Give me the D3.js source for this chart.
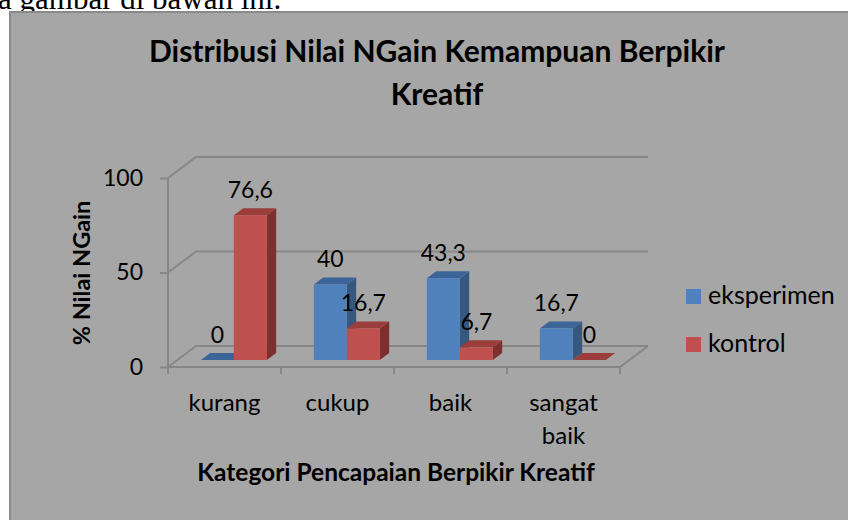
<!DOCTYPE html>
<html>
<head>
<meta charset="utf-8">
<script src="https://cdn.jsdelivr.net/npm/d3@7"></script>
<style>
  body { margin: 0; background: #fff; }
  svg { display: block; }
  text { font-family: Lato, "Open Sans", sans-serif; fill: #000; }
</style>
</head>
<body>
<div id="chart"></div>
<script>
// data
var categories = ["kurang", "cukup", "baik", "sangat baik"];
var seriesNames = ["eksperimen", "kontrol"];
var eksperimen = [0, 40, 43.3, 16.7];
var kontrol = [76.6, 16.7, 6.7, 0];
var yTicks = [0, 50, 100];

var W = 848, H = 520;
var front = { left: 168, right: 620, bottom: 367, top: 178 };
var depth = { dx: 28, dy: -21 };   // full floor depth
var barDx = depth.dx / 3, barDy = depth.dy / 3;

var faceColors = {
    eksperimen: { front: "#4f81bd", top: "#3c6597", side: "#36587f" },
    kontrol:    { front: "#c0504d", top: "#9a3d3b", side: "#7c2f2d" }
};
var gridColor = "#878787";
var fmt = function (v) { return String(v).replace(".", ","); };

var svg = d3.select("#chart").append("svg")
    .attr("width", W).attr("height", H);

// page text above the chart (cut off in the source too)
svg.append("text")
    .attr("x", -2).attr("y", 9)
    .style("font-family", "'Liberation Serif', 'Times New Roman', serif")
    .style("font-size", "31px")
    .text("a gambar di bawah ini.");

// chart area
svg.append("rect")
    .attr("x", 10).attr("y", 12)
    .attr("width", W + 10).attr("height", H)
    .attr("fill", "#a6a6a6")
    .attr("stroke", "#8a8a8a").attr("stroke-width", 2);

// title
var title = svg.append("text")
    .attr("text-anchor", "middle")
    .style("font-weight", "bold").style("font-size", "30px");
title.append("tspan").attr("x", 437).attr("y", 62).text("Distribusi Nilai NGain Kemampuan Berpikir");
title.append("tspan").attr("x", 437).attr("y", 105).text("Kreatif");

// scales
var x0 = d3.scaleBand().domain(categories).range([front.left, front.right]).padding(0);
var groupW = x0.bandwidth() * 0.584;
var x1 = d3.scaleBand().domain(seriesNames).range([0, groupW]).padding(0);
var yFront = d3.scaleLinear().domain([0, 100]).range([front.bottom, front.top]);
var yBar = d3.scaleLinear().domain([0, 100]).range([front.bottom + barDy, front.top + barDy]);

// walls / gridlines
var grid = svg.append("g");
yTicks.forEach(function (t) {
    var y = yFront(t);
    grid.append("path")
        .attr("d", "M" + (front.left) + "," + y +
            "L" + (front.left + depth.dx) + "," + (y + depth.dy) +
            "L" + (front.right + depth.dx) + "," + (y + depth.dy))
        .attr("fill", "none").attr("stroke", gridColor).attr("stroke-width", 2);
});
// floor front edge and right side
grid.append("path")
    .attr("d", "M" + front.left + "," + front.bottom +
        "L" + front.right + "," + front.bottom +
        "L" + (front.right + depth.dx) + "," + (front.bottom + depth.dy))
    .attr("fill", "none").attr("stroke", gridColor).attr("stroke-width", 2);
// category ticks
x0.domain().concat([null]).forEach(function (c) {
    var xx = c === null ? front.right : x0(c);
    grid.append("line")
        .attr("x1", xx).attr("x2", xx)
        .attr("y1", front.bottom).attr("y2", front.bottom + 7)
        .attr("stroke", gridColor).attr("stroke-width", 2);
});

// y axis
var yAxis = d3.axisLeft(yFront).tickValues(yTicks).tickSize(8).tickPadding(17);
var gy = svg.append("g")
    .attr("transform", "translate(" + front.left + ",0)")
    .call(yAxis);
gy.select(".domain").attr("d", "M0," + front.top + "V" + (front.bottom + 6))
    .attr("stroke", gridColor).attr("stroke-width", 2);
gy.selectAll(".tick line").attr("stroke", gridColor).attr("stroke-width", 2);
gy.selectAll(".tick text").style("font-size", "23px").style("font-family", "Lato, sans-serif")
    .attr("fill", "#000");

// bars
var bars = [];
categories.forEach(function (c, i) {
    bars.push({ cat: c, s: "eksperimen", v: eksperimen[i] });
    bars.push({ cat: c, s: "kontrol", v: kontrol[i] });
});
function barLeft(d) {
    return x0(d.cat) + (x0.bandwidth() - groupW) / 2 + x1(d.s) + barDx;
}
var bw = x1.bandwidth();
var gBars = svg.append("g");
var bg = gBars.selectAll("g.bar").data(bars).enter().append("g").attr("class", "bar");
bg.append("path") // side
    .attr("d", function (d) {
        var xr = barLeft(d) + bw, yt = yBar(d.v), yb = yBar(0);
        return "M" + xr + "," + yb + "L" + (xr + barDx) + "," + (yb + barDy) +
            "L" + (xr + barDx) + "," + (yt + barDy) + "L" + xr + "," + yt + "Z";
    })
    .attr("fill", function (d) { return faceColors[d.s].side; });
bg.append("path") // top
    .attr("d", function (d) {
        var xl = barLeft(d), xr = xl + bw, yt = yBar(d.v);
        return "M" + xl + "," + yt + "L" + (xl + barDx) + "," + (yt + barDy) +
            "L" + (xr + barDx) + "," + (yt + barDy) + "L" + xr + "," + yt + "Z";
    })
    .attr("fill", function (d) { return faceColors[d.s].top; });
bg.append("rect") // front
    .attr("x", barLeft)
    .attr("y", function (d) { return yBar(d.v); })
    .attr("width", bw)
    .attr("height", function (d) { return yBar(0) - yBar(d.v); })
    .attr("fill", function (d) { return faceColors[d.s].front; });

// value labels
svg.append("g").selectAll("text").data(bars).enter().append("text")
    .attr("x", function (d) { return barLeft(d) + bw / 2; })
    .attr("y", function (d) { return yBar(d.v) - 17; })
    .attr("text-anchor", "middle")
    .style("font-size", "23px")
    .text(function (d) { return fmt(d.v); });

// category labels
var xAxis = d3.axisBottom(x0).tickSize(0).tickPadding(0).tickFormat("");
var gx = svg.append("g").attr("transform", "translate(0," + front.bottom + ")").call(xAxis);
gx.select(".domain").remove();
gx.selectAll(".tick").each(function (c) {
    var t = d3.select(this).append("text")
        .attr("text-anchor", "middle")
        .style("font-size", "24px");
    c.split(" ").forEach(function (w, k) {
        t.append("tspan").attr("x", 0).attr("y", 44 + k * 33).text(w);
    });
});

// axis titles
svg.append("text")
    .attr("transform", "translate(90,273) rotate(-90)")
    .attr("text-anchor", "middle")
    .style("font-weight", "bold").style("font-size", "23.5px")
    .text("% Nilai NGain");
svg.append("text")
    .attr("x", 396).attr("y", 481)
    .attr("text-anchor", "middle")
    .style("font-weight", "bold").style("font-size", "24.5px")
    .text("Kategori Pencapaian Berpikir Kreatif");

// legend
var leg = svg.append("g").selectAll("g").data(seriesNames).enter().append("g")
    .attr("transform", function (d, i) { return "translate(686," + (289 + i * 48) + ")"; });
leg.append("rect").attr("width", 15).attr("height", 15)
    .attr("fill", function (d) { return faceColors[d].front; });
leg.append("text").attr("x", 22).attr("y", 15)
    .style("font-size", "25px")
    .text(function (d) { return d; });
</script>
</body>
</html>
